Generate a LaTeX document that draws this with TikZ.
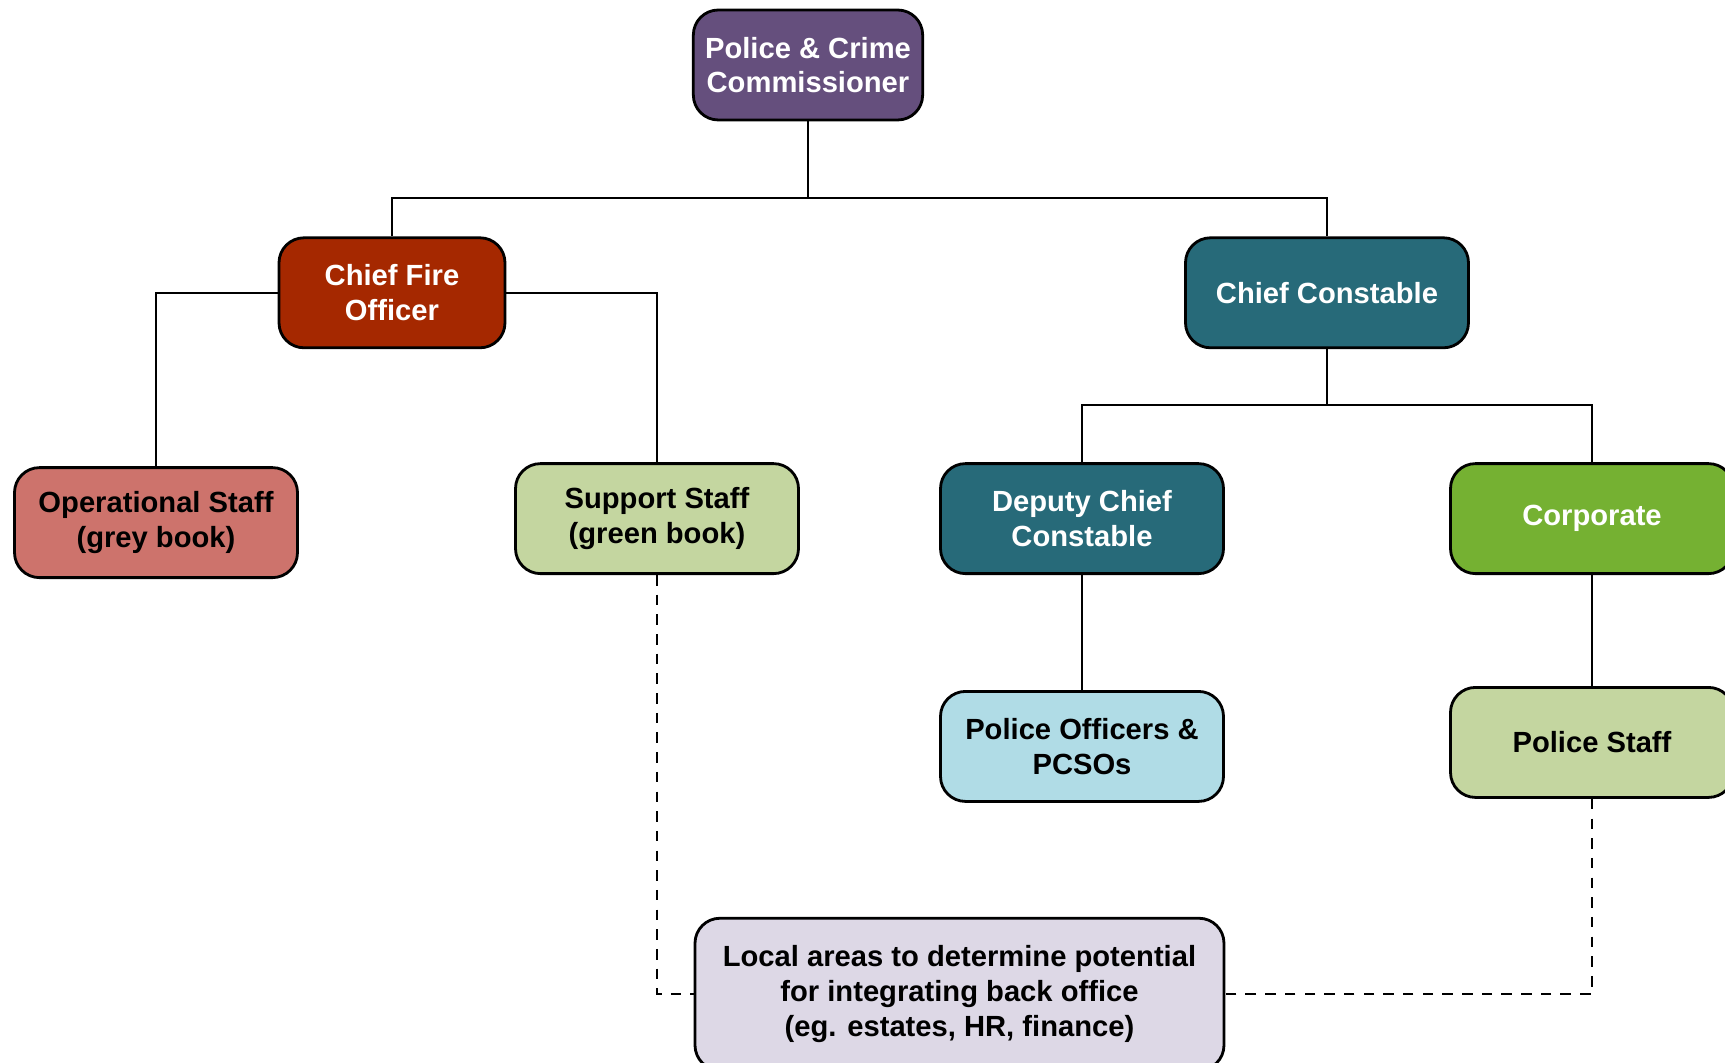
\documentclass[tikz,border=0pt]{standalone}
\usepackage{fontspec}
\setmainfont{Liberation Sans}
\usetikzlibrary{positioning}
\definecolor{pccpurple}{RGB}{101,79,125}
\definecolor{firered}{RGB}{165,40,0}
\definecolor{copteal}{RGB}{39,106,121}
\definecolor{opsred}{RGB}{205,115,108}
\definecolor{supgreen}{RGB}{196,214,160}
\definecolor{corpgreen}{RGB}{117,177,50}
\definecolor{offblue}{RGB}{176,220,230}
\definecolor{loclilac}{RGB}{221,216,230}

\begin{document}
\begin{tikzpicture}[font=\fontsize{8.3}{9.9}\selectfont\bfseries, box/.style={draw, rounded corners=0.25cm, line width=0.8pt, align=center, minimum width=2.83cm, minimum height=1.1cm}, link/.style={line width=0.55pt}, backlink/.style={link, dash pattern=on 3pt off 2.6pt}]
\useasboundingbox (0,0) rectangle (17.25,-10.63);
\node[box, fill=pccpurple, text=white, minimum width=2.26cm] (pcc) at (8.08,-0.65) {Police \& Crime\\Commissioner};
\node[box, fill=firered, text=white, minimum width=2.26cm, below=1.15cm of pcc, xshift=-4.16cm] (cfo) {Chief Fire\\Officer};
\node[box, fill=copteal, text=white, below=1.15cm of pcc, xshift=5.19cm] (cc) {Chief Constable};
\node[box, fill=opsred, below=1.17cm of cfo, xshift=-2.36cm] (ops) {Operational Staff\\(grey book)};
\node[box, fill=supgreen, below=1.13cm of cfo, xshift=2.65cm] (sup) {Support Staff\\(green book)};
\node[box, fill=copteal, text=white, below=1.13cm of cc, xshift=-2.45cm] (dcc) {Deputy Chief\\Constable};
\node[box, fill=corpgreen, text=white, below=1.13cm of cc, xshift=2.65cm] (corp) {Corporate};
\node[box, fill=offblue, below=1.15cm of dcc] (poc) {Police Officers \&\\PCSOs};
\node[box, fill=supgreen, below=1.11cm of corp] (pst) {Police Staff};
\node[box, fill=loclilac, minimum width=5.29cm, minimum height=1.52cm, below=1.14cm of poc, xshift=-1.225cm] (loc) {Local areas to determine potential\\for integrating back office\\(eg. estates, HR, finance)};
\draw[link] (pcc.south) -- ++(0,-0.77) -| (cfo.north);
\draw[link] (pcc.south) -- ++(0,-0.77) -| (cc.north);
\draw[link] (cfo.west) -| (ops.north);
\draw[link] (cfo.east) -| (sup.north);
\draw[link] (cc.south) -- ++(0,-0.56) -| (dcc.north);
\draw[link] (cc.south) -- ++(0,-0.56) -| (corp.north);
\draw[link] (dcc) -- (poc);
\draw[link] (corp) -- (pst);
\draw[backlink] (sup.south) |- (loc.west);
\draw[backlink] (pst.south) |- (loc.east);
\end{tikzpicture}
\end{document}
